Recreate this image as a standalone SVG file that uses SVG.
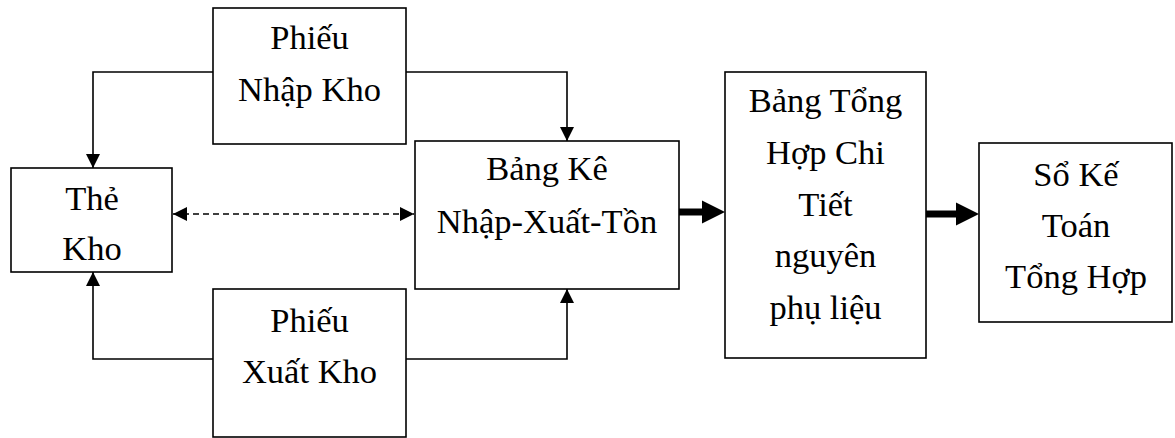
<svg xmlns="http://www.w3.org/2000/svg" width="1175" height="438" viewBox="0 0 1175 438">
  <style>
    .box { fill: #ffffff; stroke: #000000; stroke-width: 1.6; }
    .lbl { font-family: 'Liberation Serif', 'DejaVu Serif', 'Times New Roman', serif; font-size: 34.5px; fill: #000000; text-anchor: middle; }
    .link { fill: none; stroke: #000000; stroke-width: 1.6; }
    .dash { fill: none; stroke: #000000; stroke-width: 1.6; stroke-dasharray: 6 4; }
    .thick { fill: none; stroke: #000000; stroke-width: 7; }
  </style>
  <defs>
    <marker id="tip" viewBox="0 0 14 14" refX="14" refY="7" markerWidth="14" markerHeight="14" markerUnits="userSpaceOnUse" orient="auto-start-reverse">
      <path d="M0,0 L14,7 L0,14 Z" fill="#000000"/>
    </marker>
  </defs>

  <g id="connectors">
    <path class="link" d="M213,72 H93 V168" marker-end="url(#tip)"/>
    <path class="link" d="M406,72 H567 V141" marker-end="url(#tip)"/>
    <path class="link" d="M213,359 H93 V272" marker-end="url(#tip)"/>
    <path class="link" d="M406,359 H567 V289" marker-end="url(#tip)"/>
    <path class="dash" d="M173,214 H414" marker-start="url(#tip)" marker-end="url(#tip)"/>
    <path class="thick" d="M679,212 H705"/>
    <path d="M702,200.5 L725,212 L702,223.5 Z" fill="#000000"/>
    <path class="thick" d="M926,214 H958"/>
    <path d="M956,202.5 L979,214 L956,225.5 Z" fill="#000000"/>
  </g>

  <g id="phieu-nhap-kho">
    <rect class="box" x="213" y="8" width="193" height="136"/>
    <text class="lbl" x="309.5" y="49">Phiếu</text>
    <text class="lbl" x="309.5" y="101">Nhập Kho</text>
  </g>

  <g id="the-kho">
    <rect class="box" x="11" y="168" width="161" height="104"/>
    <text class="lbl" x="92" y="210">Thẻ</text>
    <text class="lbl" x="92" y="260">Kho</text>
  </g>

  <g id="phieu-xuat-kho">
    <rect class="box" x="213" y="289" width="193" height="148"/>
    <text class="lbl" x="309.5" y="331.5">Phiếu</text>
    <text class="lbl" x="309.5" y="383">Xuất Kho</text>
  </g>

  <g id="bang-ke">
    <rect class="box" x="415" y="141" width="264" height="148"/>
    <text class="lbl" x="547" y="179.5">Bảng Kê</text>
    <text class="lbl" x="547" y="233">Nhập-Xuất-Tồn</text>
  </g>

  <g id="bang-tong-hop">
    <rect class="box" x="725" y="72" width="201" height="286"/>
    <text class="lbl" x="825.5" y="112">Bảng Tổng</text>
    <text class="lbl" x="825.5" y="164">Hợp Chi</text>
    <text class="lbl" x="825.5" y="215.5">Tiết</text>
    <text class="lbl" x="825.5" y="267">nguyên</text>
    <text class="lbl" x="825.5" y="318.5">phụ liệu</text>
  </g>

  <g id="so-ke-toan">
    <rect class="box" x="979" y="143" width="193" height="179"/>
    <text class="lbl" x="1076" y="185.5">Sổ Kế</text>
    <text class="lbl" x="1076" y="236.5">Toán</text>
    <text class="lbl" x="1076" y="288">Tổng Hợp</text>
  </g>
</svg>
